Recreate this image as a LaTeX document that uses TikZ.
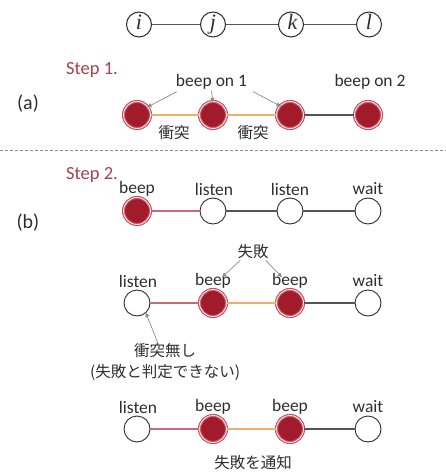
\documentclass[tikz,border=0pt]{standalone}
\usepackage{fontspec}
\setmainfont{Carlito}
\newfontfamily\jp{Noto Sans CJK JP}
\newfontfamily\letterfont{Liberation Serif}
\usetikzlibrary{arrows.meta}

\definecolor{beepred}{HTML}{A11B2B}
\definecolor{ringred}{HTML}{C9505E}
\definecolor{stepcol}{HTML}{A8404F}
\definecolor{txt}{HTML}{2E2E2E}
\definecolor{edgegray}{HTML}{555555}
\definecolor{edgeorange}{HTML}{F0AE6A}
\definecolor{edgepink}{HTML}{C86A78}
\definecolor{ptrgray}{HTML}{8C8C8C}

\tikzset{
  lbl/.style={font=\fontsize{17.5}{19}\selectfont, text=txt, inner sep=0pt},
  jlbl/.style={font=\jp\fontsize{15.5}{21}\selectfont, text=txt, inner sep=0pt, align=center},
  steplbl/.style={font=\fontsize{18.5}{20}\selectfont, text=stepcol, inner sep=0pt, anchor=west},
  partlbl/.style={font=\fontsize{20}{22}\selectfont, text=txt, inner sep=0pt},
  vtx/.style={circle, draw=txt, line width=1pt, fill=white, minimum size=25pt, inner sep=0pt,
              text height=11pt, text depth=1pt, text width=7pt, align=center,
              text=txt, font=\letterfont\itshape\fontsize{22}{22}\selectfont},
  idle/.style={circle, draw=txt, line width=0.9pt, fill=white, minimum size=26pt, inner sep=0pt},
  beeping/.style={circle, draw=ringred, double=white!85!ringred, double distance=0.9pt,
                  line width=1.1pt, fill=beepred, minimum size=27pt, inner sep=0pt},
  link/.style={line width=1.1pt, draw=edgegray},
  hot/.style={line width=1.1pt, draw=edgeorange},
  warm/.style={line width=1.1pt, draw=edgepink},
  ptr/.style={draw=ptrgray, line width=0.7pt, -{Triangle[length=4.5pt,width=4pt]}},
}

\begin{document}
\begin{tikzpicture}[x=1pt, y=-1pt]
\useasboundingbox (0,0) rectangle (446,473);

% graph i - j - k - l
\node[vtx] (ti) at (139,24.5) {i};
\node[vtx] (tj) at (213,24.5) {j};
\node[vtx] (tk) at (291,24.5) {k};
\node[vtx] (tl) at (369,24.5) {l};
\draw[link] (ti) -- (tj);
\draw[link] (tj) -- (tk);
\draw[link] (tk) -- (tl);

% Step 1
\node[steplbl] (s1) at (66,70) {Step 1.};
\node[partlbl] (pa) at (28,104) {(a)};
\node[beeping] (a1) at (137,115) {};
\node[beeping] (a2) at (213,115) {};
\node[beeping] (a3) at (290,115) {};
\node[beeping] (a4) at (368,115) {};
\draw[hot] (a1) -- (a2);
\draw[hot] (a2) -- (a3);
\draw[link] (a3) -- (a4);
\node[lbl] (b1) at (211.5,82) {beep on 1};
\node[lbl] (b2) at (370,82) {beep on 2};
\draw[ptr] ([xshift=1pt,yshift=-2pt]b1.south west) -- ([shift={(1pt,-3pt)}]a1.50);
\draw[ptr] ([yshift=-1pt]b1.south) -- ([yshift=-1.5pt]a2.north);
\draw[ptr] ([xshift=6pt,yshift=-2pt]b1.south east) -- ([shift={(-1pt,-3pt)}]a3.125);
\node[jlbl] (c1) at (174,133) {衝突};
\node[jlbl] (c2) at (253,133) {衝突};

% separator
\coordinate (sepL) at (0,150);
\coordinate (sepR) at (446,150);
\draw[ptrgray, line width=0.7pt, dash pattern=on 3pt off 2pt] (sepL) -- (sepR);

% Step 2
\node[steplbl] (s2) at (66,175) {Step 2.};
\node[partlbl] (pb) at (28,223) {(b)};

% first state
\node[beeping] (p1) at (137,211) {};
\node[idle] (p2) at (213,211) {};
\node[idle] (p3) at (290,211) {};
\node[idle] (p4) at (368,211) {};
\draw[warm] (p1) -- (p2);
\draw[link] (p2) -- (p3);
\draw[link] (p3) -- (p4);
\node[lbl] (l11) at (137,189) {beep};
\node[lbl] (l12) at (214,189) {listen};
\node[lbl] (l13) at (290,189) {listen};
\node[lbl] (l14) at (368,189) {wait};

% second state
\node[idle] (q1) at (137,303) {};
\node[beeping] (q2) at (213,303) {};
\node[beeping] (q3) at (290,303) {};
\node[idle] (q4) at (368,303) {};
\draw[warm] (q1) -- (q2);
\draw[hot] (q2) -- (q3);
\draw[link] (q3) -- (q4);
\node[lbl] (l21) at (138,281) {listen};
\node[lbl] (l22) at (213,281) {beep};
\node[lbl] (l23) at (290,281) {beep};
\node[lbl] (l24) at (368,281) {wait};
\node[jlbl] (f1) at (253,252) {失敗};
\draw[ptr] ([shift={(3pt,-1pt)}]f1.south west) -- ([shift={(9pt,-4pt)}]l22.north);
\draw[ptr] ([shift={(-3pt,-1pt)}]f1.south east) -- ([shift={(-8pt,-4pt)}]l23.north);
\node[jlbl] (nc) at (165,362) {衝突無し\\(失敗と判定できない)};
\draw[ptr] ([shift={(-5pt,-5pt)}]nc.north) -- ([shift={(1pt,1.5pt)}]q1.-55);

% third state
\node[idle] (r1) at (137,429) {};
\node[beeping] (r2) at (213,429) {};
\node[beeping] (r3) at (290,429) {};
\node[idle] (r4) at (368,429) {};
\draw[warm] (r1) -- (r2);
\draw[hot] (r2) -- (r3);
\draw[link] (r3) -- (r4);
\node[lbl] (l31) at (138,407) {listen};
\node[lbl] (l32) at (213,407) {beep};
\node[lbl] (l33) at (290,407) {beep};
\node[lbl] (l34) at (368,407) {wait};
\node[jlbl] (nt) at (253,463) {失敗を通知};
\end{tikzpicture}
\end{document}
